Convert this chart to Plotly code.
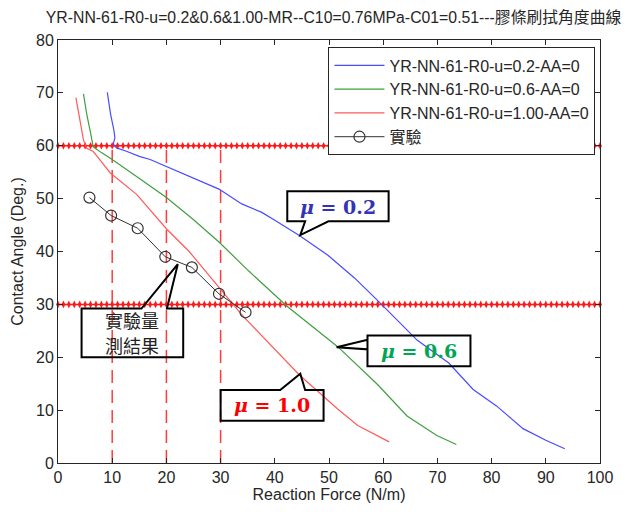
import plotly.graph_objects as go

# ---------------- data ----------------
TITLE = "YR-NN-61-R0-u=0.2&0.6&1.00-MR--C10=0.76MPa-C01=0.51---膠條刷拭角度曲線"
NAMES = ["YR-NN-61-R0-u=0.2-AA=0", "YR-NN-61-R0-u=0.6-AA=0", "YR-NN-61-R0-u=1.00-AA=0", "實驗"]

blue_x = [9.1, 9.7, 10.3, 10.5, 10.2, 10.8, 12.5, 15.0, 17.0, 20.0, 24.2, 29.7, 33.9, 37.6, 40.0,
          44.6, 49.8, 54.7, 59.0, 62.0, 66.3, 72.1, 76.6, 80.9, 85.8, 90.0, 93.5]
blue_y = [70.1, 66.0, 63.0, 61.5, 60.3, 59.6, 59.0, 58.0, 57.4, 56.1, 54.2, 51.8, 49.0, 47.4, 45.9,
          43.0, 39.3, 35.0, 30.7, 27.6, 23.2, 18.9, 13.9, 10.8, 6.5, 4.3, 2.7]

green_x = [4.7, 5.3, 6.0, 6.5, 8.0, 9.6, 14.5, 20.0, 24.8, 29.7, 35.2, 42.2, 51.6, 59.0, 64.4, 69.9, 73.5]
green_y = [69.8, 66.0, 62.5, 59.8, 58.7, 57.7, 54.2, 50.2, 46.2, 41.8, 36.3, 29.7, 22.0, 14.8, 8.9, 5.2, 3.5]

red_x = [3.3, 3.8, 4.3, 4.7, 5.3, 6.5, 8.0, 9.6, 14.5, 20.0, 24.2, 29.7, 32.8, 34.3, 39.5, 44.5, 51.6, 55.3, 61.1]
red_y = [69.1, 66.0, 63.0, 61.1, 59.5, 58.9, 57.0, 54.9, 50.8, 44.3, 40.0, 33.1, 29.4, 27.6, 22.0, 16.7, 10.2, 7.1, 4.0]

exp_x = [5.8, 9.8, 14.7, 19.8, 24.7, 29.7, 34.6]
exp_y = [50.2, 46.8, 44.4, 39.0, 37.0, 32.0, 28.5]

guide_y = [60, 30]                 # horizontal red dotted guides
guide_marks_x = list(range(0, 101))
vguide_x = [10, 20, 30]            # vertical red dashed guides
vguide_y = [0, 60]

FONT = "Liberation Sans, Arial, Noto Sans CJK TC, sans-serif"
TXT = "#262626"

fig = go.Figure()

# vertical dashed guides
for vx in vguide_x:
    fig.add_trace(go.Scatter(x=[vx, vx], y=vguide_y, mode="lines", showlegend=False,
                             line=dict(color="#ff3b3b", width=1.5, dash="13px,7px"), hoverinfo="skip"))

# horizontal dotted guides
for gy in guide_y:
    fig.add_trace(go.Scatter(x=guide_marks_x, y=[gy] * len(guide_marks_x), mode="lines+markers",
                             showlegend=False, cliponaxis=False,
                             line=dict(color="#ff1a1a", width=1.5),
                             marker=dict(symbol="diamond-tall", size=5.5, color="#ff1a1a"),
                             hoverinfo="skip"))

fig.add_trace(go.Scatter(x=blue_x, y=blue_y, mode="lines", name=NAMES[0],
                         line=dict(color="#4a4aff", width=1.2)))
fig.add_trace(go.Scatter(x=green_x, y=green_y, mode="lines", name=NAMES[1],
                         line=dict(color="#3f9f3f", width=1.2)))
fig.add_trace(go.Scatter(x=red_x, y=red_y, mode="lines", name=NAMES[2],
                         line=dict(color="#ff5a5a", width=1.2)))
fig.add_trace(go.Scatter(x=exp_x, y=exp_y, mode="lines+markers", name=NAMES[3],
                         line=dict(color="#333333", width=1),
                         marker=dict(symbol="circle-open", size=11, color="#333333",
                                     line=dict(width=1.2, color="#333333"))))


def callout(box, tail):
    """box=(x0,x1,y0,y1) data coords; tail=(edge, a, b, tipx, tipy)"""
    x0, x1, y0, y1 = box
    edge, a, b, tx, ty = tail
    if edge == "bottom":
        p = f"M{x0},{y1} L{x1},{y1} L{x1},{y0} L{b},{y0} L{tx},{ty} L{a},{y0} L{x0},{y0} Z"
    elif edge == "top":
        p = f"M{x0},{y0} L{x1},{y0} L{x1},{y1} L{b},{y1} L{tx},{ty} L{a},{y1} L{x0},{y1} Z"
    else:  # left
        p = f"M{x0},{y1} L{x1},{y1} L{x1},{y0} L{x0},{y0} L{x0},{a} L{tx},{ty} L{x0},{b} Z"
    return dict(type="path", path=p, xref="x", yref="y",
                line=dict(color="black", width=2), fillcolor="rgba(0,0,0,0)", layer="above")


shapes = [
    callout((42.3, 61.0, 45.7, 51.4), ("bottom", 45.6, 49.9, 44.7, 43.1)),
    callout((57.1, 76.1, 18.3, 24.1), ("left", 23.3, 21.5, 51.4, 21.9)),
    callout((30.0, 49.0, 8.0, 13.8), ("top", 41.0, 45.6, 44.7, 16.9)),
    callout((4.35, 23.1, 20.0, 29.2), ("top", 15.4, 20.1, 22.1, 37.6)),
]

MU_FONT = "DejaVu Serif, Liberation Serif, serif"
CJK = "Noto Sans CJK TC, sans-serif"
annotations = [
    dict(x=51.65, y=48.5, text="<b><i>μ</i> = 0.2</b>", font=dict(family=MU_FONT, size=19, color="#3333b8")),
    dict(x=66.6, y=21.2, text="<b><i>μ</i> = 0.6</b>", font=dict(family=MU_FONT, size=19, color="#00a651")),
    dict(x=39.5, y=10.9, text="<b><i>μ</i> = 1.0</b>", font=dict(family=MU_FONT, size=19, color="#ff0000")),
    dict(x=13.7, y=27.0, text="實驗量", font=dict(family=CJK, size=18, color="#222222")),
    dict(x=13.7, y=22.3, text="測結果", font=dict(family=CJK, size=18, color="#222222")),
]
for a in annotations:
    a.update(xref="x", yref="y", showarrow=False)

axis_common = dict(showgrid=False, zeroline=False, showline=True, mirror="ticks",
                   linecolor=TXT, linewidth=1, ticks="inside", ticklen=5, tickcolor=TXT,
                   tickfont=dict(family=FONT, size=16, color=TXT))

fig.update_layout(
    width=625, height=512,
    margin=dict(l=58, r=22, t=40, b=44),
    paper_bgcolor="white", plot_bgcolor="white",
    font=dict(family=FONT, color=TXT),
    title=dict(text=TITLE, x=0.994, xref="container", xanchor="right",
               y=1 - 17 / 512, yref="container", yanchor="middle",
               font=dict(family=FONT, size=15.8, color=TXT)),
    xaxis=dict(range=[0, 100], dtick=10, title=dict(text="Reaction Force (N/m)", standoff=3,
               font=dict(family=FONT, size=16, color=TXT)), **axis_common),
    yaxis=dict(range=[0, 80], dtick=10, title=dict(text="Contact Angle (Deg.)", standoff=8,
               font=dict(family=FONT, size=16, color=TXT)), **axis_common),
    legend=dict(x=0.499, y=0.9825, xanchor="left", yanchor="top", bgcolor="white",
                bordercolor="#262626", borderwidth=1, font=dict(family=FONT, size=16, color=TXT),
                itemwidth=50, tracegroupgap=0),
    shapes=shapes, annotations=annotations,
)

fig.write_html("out.html")
